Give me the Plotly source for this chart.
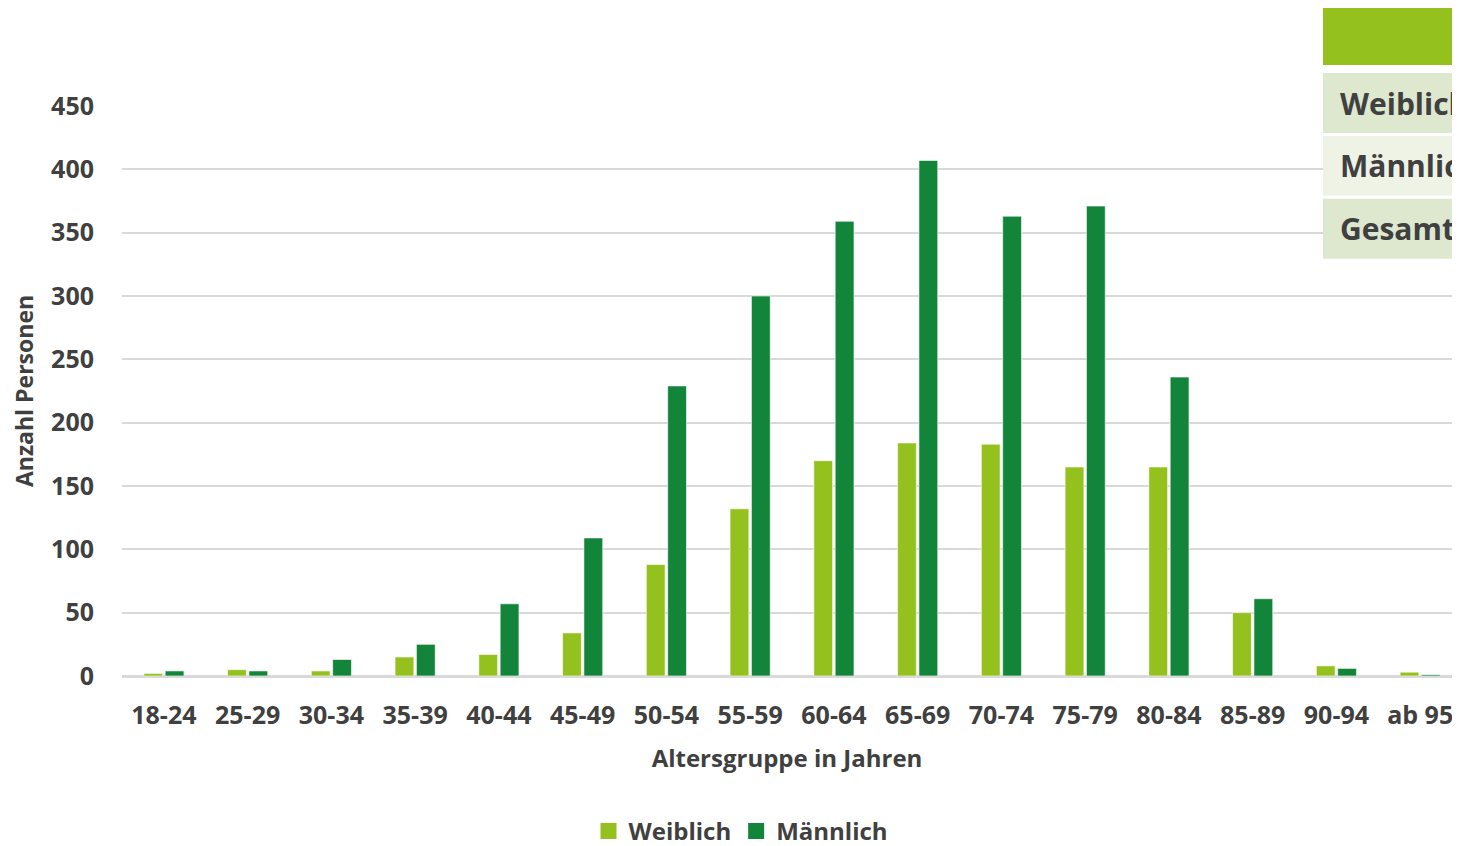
import plotly.graph_objects as go

# ---------------------------------------------------------------------------
# Data
# ---------------------------------------------------------------------------

AGE_GROUPS = ["18-24", "25-29", "30-34", "35-39", "40-44", "45-49", "50-54", "55-59",
              "60-64", "65-69", "70-74", "75-79", "80-84", "85-89", "90-94", "ab 95"]
WEIBLICH = [2, 5, 4, 15, 17, 34, 88, 132, 170, 184, 183, 165, 165, 50, 8, 3]
MAENNLICH = [4, 4, 13, 25, 57, 109, 229, 300, 359, 407, 363, 371, 236, 61, 6, 1]
TABLE_ROWS = ["Weiblich", "Männlich", "Gesamt"]

# ---------------------------------------------------------------------------
# Design tokens
# ---------------------------------------------------------------------------

COLORS = {
    "light": "#95C11F",
    "dark": "#12853A",
    "text": "#404040",
    "grid": "#D9D9D9",
    "row_a": "#DDE8CF",
    "row_b": "#EEF3E6",
}
FONT = "'Open Sans', sans-serif"

# page has an 8px body margin, so the figure is laid out 8px smaller
OFF = 8
W, H = 1444, 846
L, R, T, B = 114, 0, 98, 177
pw, ph = W - L - R, H - T - B


def px_x(x):
    """page pixel x -> paper coordinate"""
    return (x - OFF - L) / pw


def px_y(y):
    """page pixel y -> paper coordinate"""
    return (H - B - (y - OFF)) / ph


fig = go.Figure()
for name, values, color in [("Weiblich", WEIBLICH, COLORS["light"]),
                            ("Männlich", MAENNLICH, COLORS["dark"])]:
    fig.add_trace(go.Bar(
        x=AGE_GROUPS, y=values, name=name, showlegend=False,
        marker=dict(color=color, line=dict(color="rgba(255,255,255,0.6)", width=1)),
    ))
    # legend-only entry with a bigger square swatch
    fig.add_trace(go.Scatter(
        x=[None], y=[None], name=name, mode="markers",
        marker=dict(symbol="square", size=17, color=color),
    ))

# table fragment in the top-right corner (cut off by the page edge)
shapes = [dict(type="rect", xref="paper", yref="paper",
               x0=px_x(1323), x1=px_x(1475), y0=px_y(65), y1=px_y(7),
               fillcolor=COLORS["light"], line_width=0, layer="above")]
annotations = []
row_tops = [73, 136, 199]
for i, (label, top) in enumerate(zip(TABLE_ROWS, row_tops)):
    shapes.append(dict(type="rect", xref="paper", yref="paper",
                       x0=px_x(1323), x1=px_x(1475), y0=px_y(top + 60), y1=px_y(top),
                       fillcolor=COLORS["row_a"] if i != 1 else COLORS["row_b"],
                       line_width=0, layer="above"))
    annotations.append(dict(xref="paper", yref="paper", x=px_x(1338), y=px_y(top + 30),
                            xanchor="left", yanchor="middle", showarrow=False,
                            text=f"<b>{label}</b>",
                            font=dict(family=FONT, size=30, color=COLORS["text"])))

fig.update_layout(
    width=W, height=H,
    margin=dict(l=L, r=R, t=T, b=B),
    paper_bgcolor="white", plot_bgcolor="white",
    font=dict(family=FONT, color=COLORS["text"], size=25),
    barmode="group", bargap=0.49, bargroupgap=0.12,
    xaxis=dict(
        range=[-0.5, 15.38],
        tickfont=dict(family=FONT, size=25, color=COLORS["text"], weight="bold"),
        ticks="outside", ticklen=17, tickcolor="rgba(0,0,0,0)",
        showgrid=False, showline=False,
        title=dict(text="<b>Altersgruppe in Jahren</b>", standoff=20,
                   font=dict(family=FONT, size=24, color=COLORS["text"])),
    ),
    yaxis=dict(
        range=[0, 450], dtick=50,
        tickfont=dict(family=FONT, size=25, color=COLORS["text"], weight="bold"),
        ticks="outside", ticklen=22, tickcolor="rgba(0,0,0,0)",
        gridcolor=COLORS["grid"], gridwidth=2,
        zeroline=True, zerolinecolor=COLORS["grid"], zerolinewidth=3,
        title=dict(text="<b>Anzahl Personen</b>", standoff=12,
                   font=dict(family=FONT, size=23, color=COLORS["text"])),
    ),
    legend=dict(
        orientation="h", xanchor="center", yanchor="middle",
        x=px_x(741), y=px_y(833),
        font=dict(family=FONT, size=24, color=COLORS["text"], weight="bold"),
        itemwidth=30,
    ),
    shapes=shapes,
    annotations=annotations,
)

fig.write_html("out.html")
